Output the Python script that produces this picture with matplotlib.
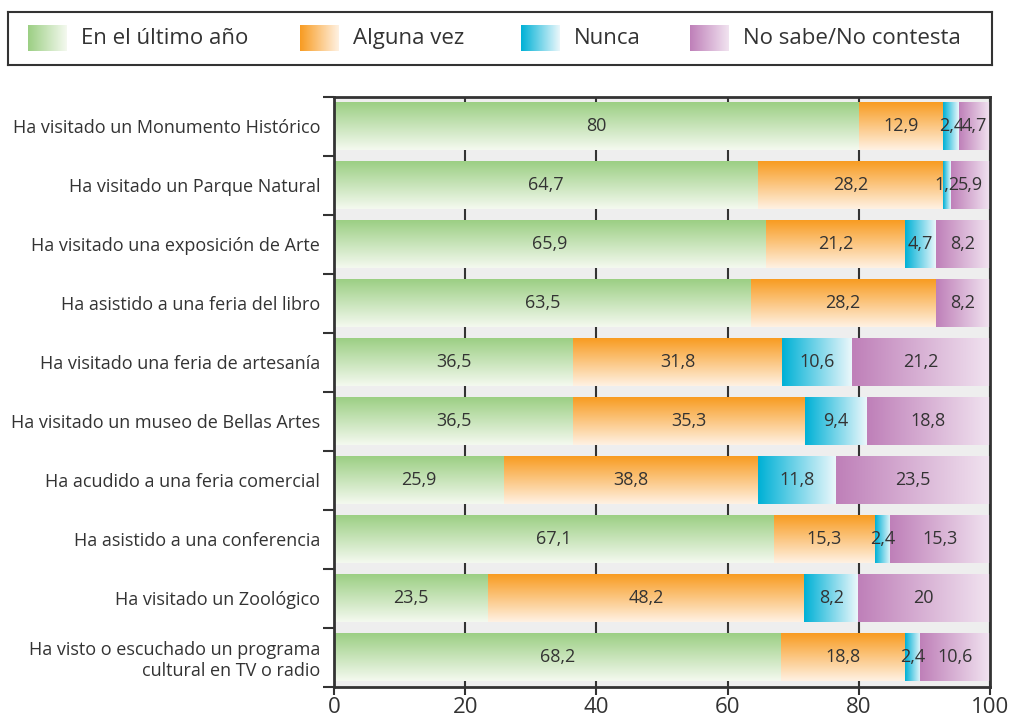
import matplotlib.pyplot as plt
import matplotlib.colors as mcolors
import numpy as np

plt.rcParams['font.family'] = ['Open Sans', 'DejaVu Sans']

Categories = [
    "Ha visitado un Monumento Histórico",
    "Ha visitado un Parque Natural",
    "Ha visitado una exposición de Arte",
    "Ha asistido a una feria del libro",
    "Ha visitado una feria de artesanía",
    "Ha visitado un museo de Bellas Artes",
    "Ha acudido a una feria comercial",
    "Ha asistido a una conferencia",
    "Ha visitado un Zoológico",
    "Ha visto o escuchado un programa\ncultural en TV o radio",
]
SeriesNames = ["En el último año", "Alguna vez", "Nunca", "No sabe/No contesta"]
UltimoAno = [80, 64.7, 65.9, 63.5, 36.5, 36.5, 25.9, 67.1, 23.5, 68.2]
AlgunaVez = [12.9, 28.2, 21.2, 28.2, 31.8, 35.3, 38.8, 15.3, 48.2, 18.8]
Nunca = [2.4, 1.2, 4.7, 0, 10.6, 9.4, 11.8, 2.4, 8.2, 2.4]
NoSabe = [4.7, 5.9, 8.2, 8.2, 21.2, 18.8, 23.5, 15.3, 20, 10.6]

# (dark colour, light colour, gradient direction)
Styles = [
    ("#9ccf84", "#f4f9ef", "v"),
    ("#f89c22", "#fff1e2", "v"),
    ("#00b1d6", "#eaf7fb", "h"),
    ("#bf80b9", "#f1e3f0", "h"),
]


def Gradient(Dark, Light, Direction, Steps=64):
    a = np.array(mcolors.to_rgb(Dark))
    b = np.array(mcolors.to_rgb(Light))
    t = np.linspace(0, 1, Steps)[:, None]
    cols = a + (b - a) * t
    if Direction == "v":
        return cols[:, None, :]
    return cols[None, :, :]


def Fmt(v):
    if float(v).is_integer():
        return str(int(v))
    return ("%.1f" % v).replace(".", ",")


Figure = plt.figure(figsize=(10.1, 7.22), dpi=100)
ax = Figure.add_axes([0.3307, 0.0485, 0.6495, 0.8172])
ax.set_facecolor("#eeeeee")

Series = [UltimoAno, AlgunaVez, Nunca, NoSabe]
N = len(Categories)
BarHeight = 0.8
for i in range(N):
    y = N - 1 - i
    left = 0
    for s, values in enumerate(Series):
        v = values[i]
        if v <= 0:
            continue
        dark, light, direction = Styles[s]
        ax.imshow(Gradient(dark, light, direction), aspect="auto",
                  extent=(left, left + v, y - BarHeight / 2, y + BarHeight / 2),
                  origin="upper", zorder=2, interpolation="bilinear")
        ax.text(left + v / 2, y, Fmt(v), ha="center", va="center",
                fontsize=13, color="#333333", zorder=3)
        left += v

ax.set_xlim(0, 100)
ax.set_ylim(-0.5, N - 0.5)
ax.set_xticks(range(0, 101, 20))
ax.tick_params(axis="x", labelsize=16, length=6, width=1.5, color="#333333",
               labelcolor="#333333", pad=1)
ax.set_yticks(range(N))
ax.set_yticklabels(Categories[::-1], fontsize=13, color="#333333")
ax.tick_params(axis="y", which="major", length=0, pad=10)
ax.set_yticks(np.arange(-0.5, N, 1), minor=True)
ax.tick_params(axis="y", which="minor", length=8, width=1.5, color="#333333")
for lab in ax.get_yticklabels():
    lab.set_horizontalalignment("right")
    lab.set_multialignment("right")
ax.set_axisbelow(True)
ax.grid(axis="x", color="#333333", linewidth=1.5)
for sp in ax.spines.values():
    sp.set_color("#333333")
    sp.set_linewidth(2)

# legend box
lg = Figure.add_axes([0.008, 0.91, 0.974, 0.073])
lg.set_xticks([])
lg.set_yticks([])
for sp in lg.spines.values():
    sp.set_color("#333333")
    sp.set_linewidth(1.5)
PatchX = [0.0203, 0.297, 0.521, 0.693]
for s, name in enumerate(SeriesNames):
    dark, light, _ = Styles[s]
    x0 = PatchX[s]
    lg.imshow(Gradient(dark, light, "h"), aspect="auto",
              extent=(x0, x0 + 0.039, 0.26, 0.74), interpolation="bilinear")
    lg.text(x0 + 0.054, 0.5, name, ha="left", va="center", fontsize=16,
            color="#333333")
lg.set_xlim(0, 1)
lg.set_ylim(0, 1)

Figure.savefig("out.png", dpi=100)
